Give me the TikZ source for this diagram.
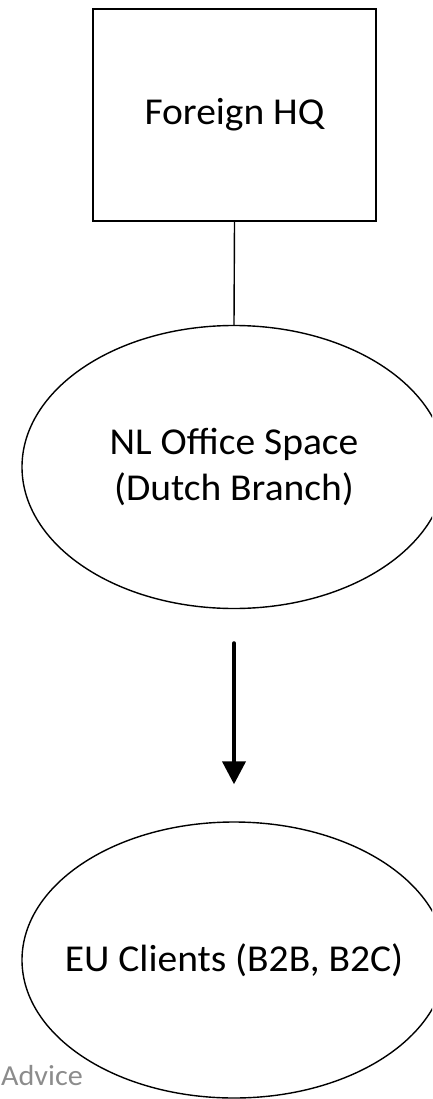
\documentclass[tikz,border=0pt]{standalone}
\usepackage{fontspec}
\setmainfont{Carlito}[FakeStretch=1.04]
\usepackage{tikz}
\usetikzlibrary{shapes,arrows.meta,positioning}

\begin{document}
\begin{tikzpicture}[x=1pt, y=-1pt,
    hqbox/.style={draw, line width=1.4pt, minimum width=283pt, minimum height=212pt, inner sep=0pt},
    blob/.style={draw, ellipse, line width=1.4pt, minimum width=424pt, inner sep=0pt, align=center},
    txt/.style={font=\fontsize{38}{46}\selectfont}]
    % Page
    \clip (0,0) rectangle (432,1099);

    % Headquarters
    \node[hqbox, txt] (hq) at (234.5,115) {Foreign HQ};

    % Dutch branch
    \node[blob, txt, minimum height=283pt] (office) at (234,467) {NL Office Space\\(Dutch Branch)};
    \draw[line width=1.4pt] (hq.south) -- (office.north);

    % Clients (negative xsep so the long line does not widen the ellipse)
    \node[blob, txt, minimum height=276pt, inner xsep=-30pt] (clients) at (234,960) {EU Clients (B2B, B2C)};
    \draw[line width=4pt, line cap=round, -{Triangle[width=23pt,length=23pt]},
          shorten <=34pt, shorten >=37pt] (office) -- (clients);

    % Footer
    \node[anchor=base west, inner sep=0pt, text=black!45, font=\fontsize{29}{35}\selectfont] (advice) at (1,1085) {Advice};
\end{tikzpicture}
\end{document}
